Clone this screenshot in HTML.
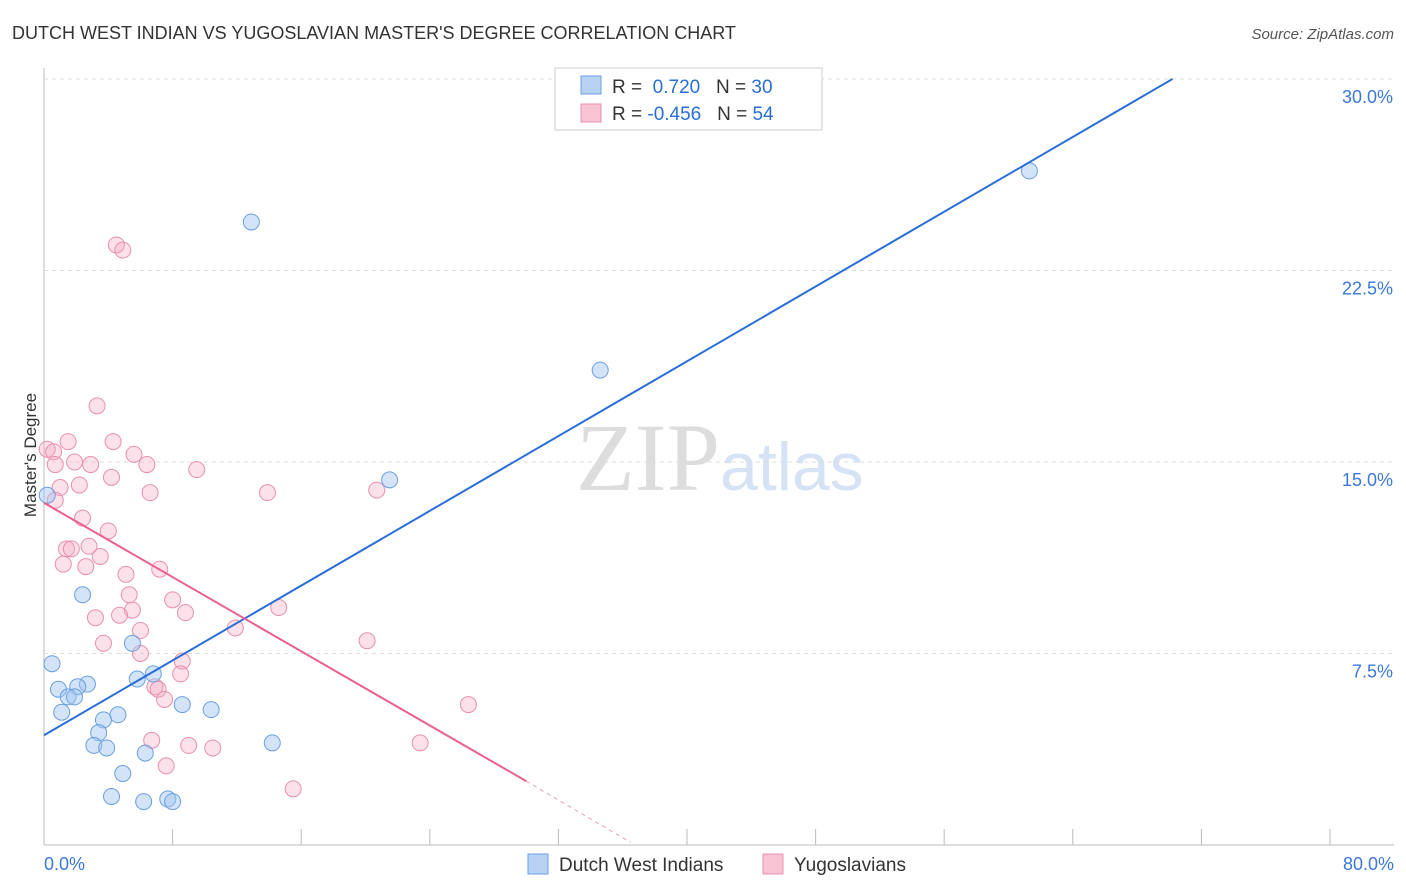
<!DOCTYPE html>
<html><head><meta charset="utf-8"><style>
body{margin:0;background:#fff;font-family:"Liberation Sans",sans-serif;}
svg{display:block}
</style></head><body>
<svg id="c" width="1406" height="892">
<text x="12" y="39" font-size="18" fill="#333">DUTCH WEST INDIAN VS YUGOSLAVIAN MASTER'S DEGREE CORRELATION CHART</text>
<text x="1394" y="39" font-size="15" fill="#555" font-style="italic" text-anchor="end">Source: ZipAtlas.com</text>
<text x="36" y="455" font-size="17" fill="#333" text-anchor="middle" transform="rotate(-90 36 455)">Master's Degree</text>
<text x="720" y="490" font-size="96" fill="#ddd" text-anchor="end" font-family="Liberation Serif">ZIP</text>
<text x="720" y="490" font-size="68" fill="#d5e3f5">atlas</text>
<g id="grid"></g><g id="pts"></g><g id="lines"></g>
<g>
<rect x="555" y="68" width="267" height="62" fill="#fff" stroke="#ccc"/>
<rect x="581" y="76" width="20" height="18" fill="#b8d2f4" stroke="#6a9fe0"/>
<text x="612" y="93" font-size="19" fill="#333">R = <tspan fill="#2a6fd6">&#160;0.720</tspan>&#160;&#160;&#160;N = <tspan fill="#2a6fd6">30</tspan></text>
<rect x="581" y="104" width="20" height="18" fill="#f8c4d4" stroke="#e890ab"/>
<text x="612" y="120" font-size="19" fill="#333">R = <tspan fill="#2a6fd6">-0.456</tspan>&#160;&#160;&#160;N = <tspan fill="#2a6fd6">54</tspan></text>
</g>
<g>
<rect x="528" y="854" width="20" height="20" fill="#b8d2f4" stroke="#6a9fe0"/>
<text x="559" y="871" font-size="19" fill="#333">Dutch West Indians</text>
<rect x="763" y="854" width="20" height="20" fill="#f8c4d4" stroke="#e890ab"/>
<text x="794" y="871" font-size="19" fill="#333">Yugoslavians</text>
</g>
</svg>
<script>
const xTicks=[0,8,16,24,32,40,48,56,64,72,80];
const yTicks=[7.5,15,22.5,30];
const blueX=[61.3,12.9,34.6,21.5,0.2,2.4,5.5,0.5,6.8,0.9,2.7,2.1,5.8,1.5,1.9,1.1,8.6,10.4,4.6,3.7,3.4,3.1,3.9,14.2,6.3,4.9,4.2,6.2,7.7,8.0];
const blueY=[26.4,24.4,18.6,14.3,13.7,9.8,7.9,7.1,6.7,6.1,6.3,6.2,6.5,5.8,5.8,5.2,5.5,5.3,5.1,4.9,4.4,3.9,3.8,4.0,3.6,2.8,1.9,1.7,1.8,1.7];
const pinkX=[4.5,4.9,3.3,1.5,4.3,0.2,0.6,0.7,1.9,2.9,5.6,6.4,9.5,1.0,2.2,4.2,6.6,13.9,20.7,0.7,2.4,4.0,1.4,1.7,2.8,3.5,1.2,2.6,5.1,7.2,5.3,8.0,5.5,8.8,14.6,3.2,4.7,6.0,11.9,3.7,20.1,6.0,8.6,8.5,6.9,7.1,7.5,26.4,6.7,9.0,10.5,23.4,7.6,15.5];
const pinkY=[23.5,23.3,17.2,15.8,15.8,15.5,15.4,14.9,15.0,14.9,15.3,14.9,14.7,14.0,14.1,14.4,13.8,13.8,13.9,13.5,12.8,12.3,11.6,11.6,11.7,11.3,11.0,10.9,10.6,10.8,9.8,9.6,9.2,9.1,9.3,8.9,9.0,8.4,8.5,7.9,8.0,7.5,7.2,6.7,6.2,6.1,5.7,5.5,4.1,3.9,3.8,4.0,3.1,2.2];
const blueLine=[0,4.3,70.2,30];
const pinkLine=[0,13.4,30,2.5];
const pinkDash=[30,2.5,36.5,0.1];
const NS='http://www.w3.org/2000/svg';
const X0=44,X1=1330,Y0=845,Y30=79;
const sx=v=>X0+v*(X1-X0)/80;
const sy=v=>Y0-v*(Y0-Y30)/30;
function mk(t,a,p){const e=document.createElementNS(NS,t);for(const k in a)e.setAttribute(k,a[k]);p.appendChild(e);return e;}
const svg=document.getElementById('c'),grid=document.getElementById('grid'),pts=document.getElementById('pts'),lines=document.getElementById('lines');
let ax=mk('line',{x1:X0,y1:Y0,x2:1394,y2:Y0,stroke:'#bbb'},grid);


let ay=mk('line',{x1:X0,y1:68,x2:X0,y2:Y0,stroke:'#bbb'},grid);


xTicks.forEach(t=>{const l=mk('line',{x1:sx(t),y1:Y0,x2:sx(t),y2:Y0+-16,stroke:'#bbb'},grid);

});
[[0,'0.0%','start',X0],[80,'80.0%','end',1394]].forEach(d=>{const t=mk('text',{x:d[3],y:870,'font-size':18,fill:'#3b78d8','text-anchor':d[2]},grid);t.textContent=d[1];

});
yTicks.forEach(v=>{const l=mk('line',{x1:X0,y1:sy(v),x2:1394,y2:sy(v),stroke:'#ddd','stroke-dasharray':'4,4'},grid);


const t=mk('text',{x:1393,y:sy(v)+24,'font-size':18,fill:'#3b78d8','text-anchor':'end'},grid);t.textContent=v.toFixed(1)+'%';

});
pinkX.forEach((x,i)=>{const c=mk('circle',{cx:sx(x),cy:sy(pinkY[i]),r:8,fill:'rgba(245,170,195,0.35)',stroke:'#e890ab','stroke-width':1},pts);

});
blueX.forEach((x,i)=>{const c=mk('circle',{cx:sx(x),cy:sy(blueY[i]),r:8,fill:'rgba(160,195,240,0.45)',stroke:'#6a9fe0','stroke-width':1},pts);

});
let bl=mk('line',{x1:sx(blueLine[0]),y1:sy(blueLine[1]),x2:sx(blueLine[2]),y2:sy(blueLine[3]),stroke:'#2a6fd6','stroke-width':2},lines);


let pl=mk('line',{x1:sx(pinkLine[0]),y1:sy(pinkLine[1]),x2:sx(pinkLine[2]),y2:sy(pinkLine[3]),stroke:'#e8608f','stroke-width':2},lines);


let pd=mk('line',{x1:sx(pinkDash[0]),y1:sy(pinkDash[1]),x2:sx(pinkDash[2]),y2:sy(pinkDash[3]),stroke:'#e8a0b8','stroke-width':1,'stroke-dasharray':'4,4'},lines);


</script>
</body></html>
